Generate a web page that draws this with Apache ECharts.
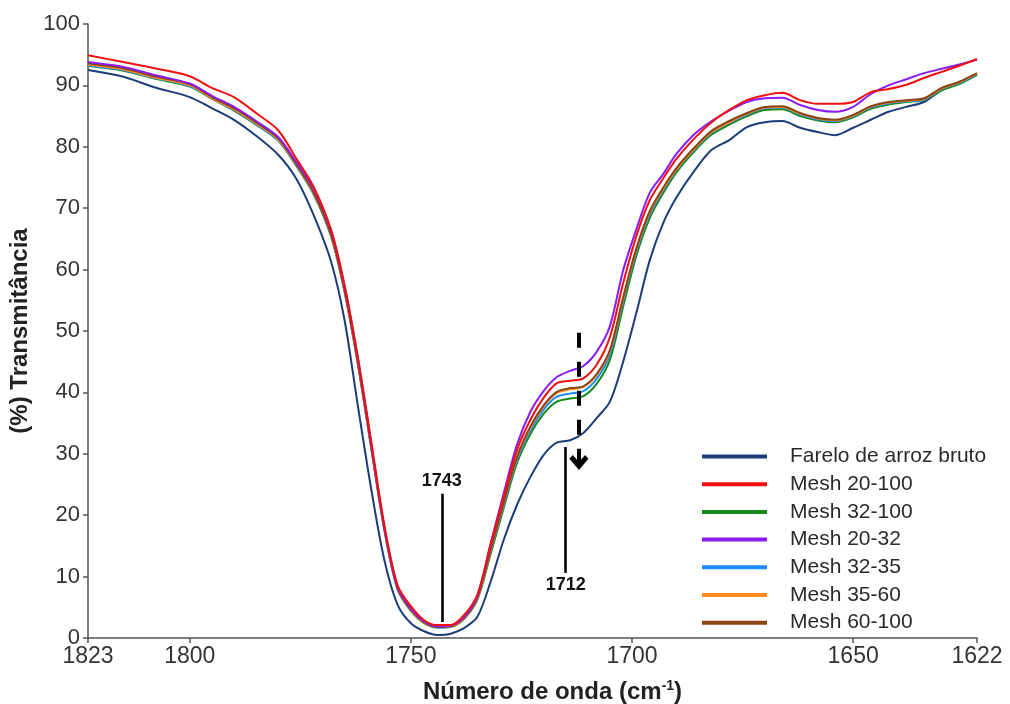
<!DOCTYPE html>
<html>
<head>
<meta charset="utf-8">
<title>Transmitância</title>
<script src="https://cdn.jsdelivr.net/npm/echarts@6/dist/echarts.min.js"></script>
<style>
  html, body { margin: 0; padding: 0; background: #fff; }
  #chart { width: 1010px; height: 704px; }
</style>
</head>
<body>
<div id="chart"></div>
<script>
// numero de onda (cm-1), eixo invertido
const wavenumbers = [1823, 1815, 1808, 1800, 1795, 1790, 1785, 1780, 1776, 1772,
  1768, 1765, 1762, 1759, 1756, 1753, 1750, 1747, 1744, 1741,
  1738, 1735, 1732, 1729, 1726, 1723, 1720, 1717, 1714, 1711,
  1708, 1705, 1702, 1699, 1696, 1693, 1690, 1686, 1682, 1678,
  1674, 1670, 1666, 1662, 1658, 1654, 1650, 1646, 1642, 1638,
  1634, 1630, 1626, 1622]

const fareloBruto = [92.5, 91.4, 89.7, 88.1, 86.3, 84.4, 81.8, 78.7, 74.9, 68.9,
  61.2, 51.8, 37.9, 24.4, 12.7, 5.4, 2.4, 1.1, 0.5, 0.7,
  1.6, 3.4, 9.1, 16.0, 21.7, 26.2, 29.8, 31.8, 32.2, 33.4,
  35.8, 38.5, 45.0, 53.0, 61.5, 67.5, 71.7, 76.0, 79.5, 81.1,
  83.2, 84.0, 84.2, 83.1, 82.4, 81.9, 83.1, 84.4, 85.7, 86.5,
  87.3, 89.2, 90.4, 91.7]

const mesh20_100 = [94.9, 93.8, 92.8, 91.5, 89.6, 88.1, 85.5, 82.7, 78.2, 73.5,
  66.4, 57.5, 45.8, 32.2, 18.4, 8.6, 5.2, 2.9, 2.1, 2.1,
  3.7, 7.0, 15.1, 23.0, 30.6, 35.5, 39.1, 41.5, 41.9, 42.3,
  44.5, 49.0, 57.8, 65.5, 71.3, 74.8, 78.0, 81.3, 84.0, 86.0,
  87.6, 88.4, 88.8, 87.6, 87.0, 87.0, 87.3, 88.9, 89.4, 90.1,
  91.2, 92.2, 93.2, 94.3]

const mesh32_100 = [93.2, 92.4, 91.1, 89.8, 87.8, 85.9, 83.6, 81.0, 77.0, 72.3,
  65.3, 56.4, 44.7, 31.1, 17.6, 7.9, 4.4, 2.4, 1.7, 1.8,
  3.1, 6.2, 13.6, 21.2, 28.5, 33.2, 36.5, 38.5, 39.0, 39.4,
  41.4, 45.3, 54.0, 62.3, 68.4, 72.4, 75.8, 79.2, 82.0, 83.6,
  85.0, 86.0, 86.1, 85.0, 84.3, 84.0, 84.8, 86.2, 86.9, 87.3,
  87.6, 89.2, 90.2, 91.7]

const mesh20_32 = [93.8, 93.0, 91.7, 90.3, 88.3, 86.5, 84.2, 81.6, 77.6, 73.2,
  66.2, 57.3, 45.6, 31.8, 18.0, 8.3, 4.8, 2.7, 1.9, 2.0,
  3.4, 6.8, 15.3, 23.6, 31.5, 36.8, 40.2, 42.5, 43.5, 44.3,
  46.6, 50.8, 59.9, 66.6, 72.5, 75.5, 78.8, 82.0, 84.2, 85.9,
  87.3, 87.9, 88.0, 86.8, 86.0, 85.7, 86.5, 88.6, 90.0, 91.0,
  92.0, 92.7, 93.4, 94.2]

const mesh32_35 = [93.3, 92.5, 91.2, 89.9, 87.9, 86.0, 83.7, 81.1, 77.1, 72.4,
  65.4, 56.5, 44.8, 31.2, 17.7, 7.9, 4.4, 2.5, 1.7, 1.9,
  3.2, 6.3, 14.0, 21.7, 29.0, 33.8, 37.2, 39.3, 39.8, 40.2,
  42.2, 46.2, 54.9, 63.0, 69.0, 72.9, 76.2, 79.5, 82.3, 83.9,
  85.3, 86.3, 86.4, 85.3, 84.5, 84.2, 85.0, 86.4, 87.1, 87.4,
  87.7, 89.4, 90.4, 91.8]

const mesh35_60 = [93.4, 92.6, 91.3, 90.0, 87.9, 86.1, 83.8, 81.2, 77.2, 72.5,
  65.5, 56.6, 44.9, 31.3, 17.8, 8.0, 4.5, 2.5, 1.8, 1.9,
  3.2, 6.4, 14.2, 22.0, 29.4, 34.2, 37.7, 39.9, 40.5, 40.9,
  42.8, 46.7, 55.3, 63.3, 69.3, 73.1, 76.3, 79.6, 82.4, 84.0,
  85.4, 86.4, 86.5, 85.4, 84.6, 84.3, 85.1, 86.5, 87.2, 87.5,
  87.8, 89.5, 90.5, 91.9]

const mesh60_100 = [93.6, 92.8, 91.5, 90.2, 88.1, 86.3, 84.0, 81.4, 77.3, 72.6,
  65.6, 56.7, 45.0, 31.4, 17.9, 8.1, 4.6, 2.6, 1.8, 2.0,
  3.3, 6.5, 14.3, 22.1, 29.5, 34.4, 37.9, 40.1, 40.7, 41.0,
  43.0, 46.9, 55.5, 63.5, 69.5, 73.3, 76.5, 79.8, 82.6, 84.2,
  85.5, 86.5, 86.6, 85.5, 84.7, 84.4, 85.2, 86.6, 87.3, 87.6,
  87.9, 89.6, 90.6, 92.0]

const xTickValues = [1823, 1800, 1750, 1700, 1650, 1622]

// linhas de anotacao: [numero de onda, y inicial, y final, texto]
const peak1743 = [1743, 2.6, 23.5, '1743']
const peak1712 = [1715, 31.1, 10.6, '1712']
const shiftArrow = [1712, 49.7, 28.6]

const legendNames = ['Farelo de arroz bruto', 'Mesh 20-100', 'Mesh 32-100',
  'Mesh 20-32', 'Mesh 32-35', 'Mesh 35-60', 'Mesh 60-100']

function pairs(values) {
  return wavenumbers.map((w, i) => [w, values[i]])
}

function lineSeries(name, values, color, extra) {
  return Object.assign({
    name: name,
    type: 'line',
    data: pairs(values),
    showSymbol: false,
    smooth: 0.3,
    lineStyle: { color: color, width: 2 },
    itemStyle: { color: color },
    emphasis: { disabled: true }
  }, extra || {})
}

const blackLine = { color: '#000', width: 2.6, type: 'solid' }
const labelFont = { fontFamily: 'Liberation Sans', fontSize: 18, fontWeight: 'bold', color: '#111' }

const option = {
  animation: false,
  textStyle: { fontFamily: 'Liberation Sans' },
  grid: { left: 88, right: 33, top: 24, bottom: 66, outerBoundsMode: 'none' },
  legend: {
    data: legendNames,
    orient: 'vertical',
    left: 697,
    top: 441,
    icon: 'rect',
    itemWidth: 65,
    itemHeight: 4,
    itemGap: 6.7,
    textStyle: { fontSize: 21, color: '#2a2a2a', padding: [0, 0, 0, 18], lineHeight: 20 }
  },
  xAxis: {
    type: 'value',
    inverse: true,
    min: 1622,
    max: 1823,
    name: 'Número de onda (cm{sup|-1})',
    nameLocation: 'middle',
    nameGap: 41,
    nameTextStyle: {
      fontSize: 24, fontWeight: 'bold', color: '#222', padding: [0, 0, 0, 40],
      rich: { sup: { fontSize: 14, fontWeight: 'bold', color: '#222', padding: [0, 0, 12, 0] } }
    },
    axisLine: { lineStyle: { color: '#555', width: 1.5 } },
    axisTick: { show: true, length: 5, customValues: xTickValues, lineStyle: { color: '#555', width: 1.5 } },
    axisLabel: { customValues: xTickValues, fontSize: 23, color: '#333', margin: 7, formatter: v => String(v) },
    splitLine: { show: false }
  },
  yAxis: {
    type: 'value',
    min: 0,
    max: 100,
    interval: 10,
    name: '(%) Transmitância',
    nameLocation: 'middle',
    nameGap: 54,
    nameTextStyle: { fontSize: 24, fontWeight: 'bold', color: '#222' },
    axisLine: { show: true, lineStyle: { color: '#555', width: 1.5 } },
    axisTick: { show: true, length: 5, lineStyle: { color: '#555', width: 1.5 } },
    axisLabel: { fontSize: 22, color: '#333', margin: 8 },
    splitLine: { show: false }
  },
  series: [
    lineSeries('Farelo de arroz bruto', fareloBruto, '#1b3d7a', {
      markLine: {
        silent: true,
        animation: false,
        symbol: ['none', 'none'],
        data: [
          [
            { coord: [peak1743[0], peak1743[1]], lineStyle: blackLine,
              label: Object.assign({ show: true, position: 'end', distance: 4, formatter: peak1743[3] }, labelFont) },
            { coord: [peak1743[0], peak1743[2]] }
          ],
          [
            { coord: [peak1712[0], peak1712[1]], lineStyle: blackLine,
              label: Object.assign({ show: true, position: 'end', distance: 3, formatter: peak1712[3] }, labelFont) },
            { coord: [peak1712[0], peak1712[2]] }
          ],
          [
            { coord: [shiftArrow[0], shiftArrow[1]], symbol: 'none',
              lineStyle: { color: '#000', width: 4, type: [15, 14] }, label: { show: false } },
            { coord: [shiftArrow[0], shiftArrow[2]], symbol: 'path://M0,10 L10,0 L20,10 L16.5,13.5 L10,7 L3.5,13.5 Z',
              symbolSize: [19, 15] }
          ]
        ]
      }
    }),
    lineSeries('Mesh 32-100', mesh32_100, '#178a1f'),
    lineSeries('Mesh 32-35', mesh32_35, '#1a8cff'),
    lineSeries('Mesh 35-60', mesh35_60, '#ff8a1e'),
    lineSeries('Mesh 60-100', mesh60_100, '#8b4513'),
    lineSeries('Mesh 20-32', mesh20_32, '#8a1cf0'),
    lineSeries('Mesh 20-100', mesh20_100, '#f01010')
  ]
}

const chart = echarts.init(document.getElementById('chart'))
chart.setOption(option)
</script>
</body>
</html>
